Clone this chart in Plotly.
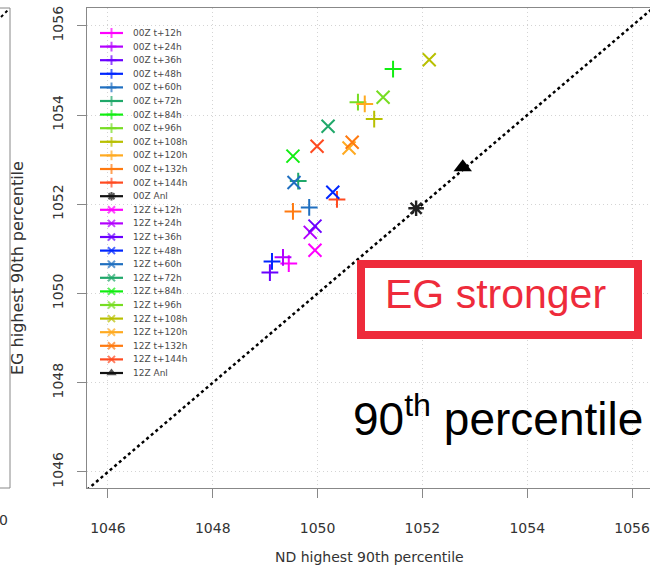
import plotly.graph_objects as go

# ---------------- data ----------------
leads = ["t+12h", "t+24h", "t+36h", "t+48h", "t+60h", "t+72h",
         "t+84h", "t+96h", "t+108h", "t+120h", "t+132h", "t+144h"]
lead_colors = ["#FF00FF", "#B300FF", "#6A00FF", "#0026FF", "#1F6FC0", "#20A86A",
               "#11EE11", "#77DD22", "#B8C000", "#FFAA20", "#FF7A10", "#FF4A20"]

run00_x = [1049.45, 1049.34, 1049.09, 1049.13, 1049.84, 1049.63,
           1051.44, 1050.77, 1051.08, 1050.90, 1049.53, 1050.37]
run00_y = [1050.67, 1050.81, 1050.47, 1050.72, 1051.93, 1052.52,
           1055.03, 1054.29, 1053.91, 1054.25, 1051.84, 1052.11]

run12_x = [1049.95, 1049.86, 1049.95, 1050.29, 1049.55, 1050.20,
           1049.53, 1051.25, 1052.13, 1050.60, 1050.66, 1049.99]
run12_y = [1050.97, 1051.37, 1051.51, 1052.27, 1052.49, 1053.75,
           1053.08, 1054.40, 1055.24, 1053.26, 1053.39, 1053.30]

anl00 = (1051.88, 1051.91)
anl12 = (1052.77, 1052.83)

x_ticks = [1046, 1048, 1050, 1052, 1054, 1056]
y_ticks = [1046, 1048, 1050, 1052, 1054, 1056]
axis_min, axis_max = 1045.6, 1056.4

# ---------------- layout geometry (pixels) ----------------
W, H = 650, 567
L, T, B = 87, 8, 79
plot_left, plot_right, plot_top, plot_bottom = L, W, T, H - B
px_per_unit = (653 - 87) / (axis_max - axis_min)
x_range = [axis_min, axis_min + (plot_right - plot_left) / px_per_unit]
y_range = [1045.64, 1056.4]

def pxx(p):
    return (p - plot_left) / (plot_right - plot_left)

def pxy(p):
    return (plot_bottom - p) / (plot_bottom - plot_top)

fig = go.Figure()

# diagonal y = x
fig.add_trace(go.Scatter(x=[axis_min, axis_max], y=[axis_min, axis_max], mode="lines",
                         line=dict(color="black", width=2.5, dash="dot"),
                         showlegend=False, hoverinfo="skip"))

for i, lead in enumerate(leads):
    fig.add_trace(go.Scatter(x=[run00_x[i]], y=[run00_y[i]], mode="markers",
                             name="00Z " + lead, showlegend=False,
                             marker=dict(symbol="cross-thin", size=12, color=lead_colors[i],
                                         line=dict(color=lead_colors[i], width=2))))
for i, lead in enumerate(leads):
    fig.add_trace(go.Scatter(x=[run12_x[i]], y=[run12_y[i]], mode="markers",
                             name="12Z " + lead, showlegend=False,
                             marker=dict(symbol="x-thin", size=13, color=lead_colors[i],
                                         line=dict(color=lead_colors[i], width=2))))

fig.add_trace(go.Scatter(x=[anl00[0]], y=[anl00[1]], mode="markers", name="00Z Anl",
                         showlegend=False,
                         marker=dict(symbol="asterisk-open", size=13, color="#222222",
                                     line=dict(color="#222222", width=2.4))))
fig.add_trace(go.Scatter(x=[anl12[0]], y=[anl12[1]], mode="markers", name="12Z Anl",
                         showlegend=False,
                         marker=dict(symbol="triangle-up", size=16, color="black",
                                     line=dict(width=0))))

# ---------------- manual compact legend (overlay axes in pixels) ----------------
legend_entries = ([("00Z " + l, c, "cross-thin", 7) for l, c in zip(leads, lead_colors)]
                  + [("00Z Anl", "#111111", "asterisk-open", 7)]
                  + [("12Z " + l, c, "x-thin", 7) for l, c in zip(leads, lead_colors)]
                  + [("12Z Anl", "#111111", "triangle-up", 9)])
row0, row_step = 33, 13.6
line_x0, line_x1, text_x = 100, 123, 131
annotations = []
for i, (lab, col, sym, sz) in enumerate(legend_entries):
    yy = row0 + i * row_step
    mk = dict(symbol=sym, size=[0, sz, 0], color=col, line=dict(color=col, width=2))
    if sym == "triangle-up":
        mk = dict(symbol=sym, size=[0, sz, 0], color=col, line=dict(width=0))
    fig.add_trace(go.Scatter(x=[line_x0, (line_x0 + line_x1) / 2, line_x1], y=[yy, yy, yy],
                             mode="lines+markers", xaxis="x2", yaxis="y2",
                             line=dict(color=col, width=2.2), marker=mk,
                             showlegend=False, hoverinfo="skip"))
    annotations.append(dict(x=text_x, y=yy, xref="x2", yref="y2", text=lab,
                            showarrow=False, xanchor="left", yanchor="middle",
                            font=dict(family="DejaVu Sans", size=9, color="#4a4a4a")))

# big annotations
annotations.append(dict(x=495, y=294, xref="x2", yref="y2", text="EG stronger",
                        showarrow=False, xanchor="center", yanchor="middle",
                        font=dict(family="Liberation Sans", size=41, color="#EE2B3B")))
annotations.append(dict(x=498, y=416, xref="x2", yref="y2",
                        text="90<sup>th</sup> percentile",
                        showarrow=False, xanchor="center", yanchor="middle",
                        font=dict(family="Liberation Sans", size=46, color="black")))

# axis titles
annotations.append(dict(x=pxx(369), y=pxy(557), xref="paper", yref="paper",
                        text="ND highest 90th percentile", showarrow=False,
                        xanchor="center", yanchor="middle",
                        font=dict(family="DejaVu Sans", size=14, color="#333333")))
annotations.append(dict(x=pxx(17), y=pxy(268), xref="paper", yref="paper",
                        text="EG highest 90th percentile", showarrow=False, textangle=-90,
                        xanchor="center", yanchor="middle",
                        font=dict(family="DejaVu Sans", size=16, color="#333333")))
# remnant of neighbouring panel
annotations.append(dict(x=pxx(3), y=pxy(520), xref="paper", yref="paper",
                        text="0", showarrow=False, xanchor="center", yanchor="middle",
                        font=dict(family="DejaVu Sans", size=14, color="#333333")))

shapes = [
    dict(type="rect", xref="x2", yref="y2", x0=361, x1=638, y0=264, y1=335,
         line=dict(color="#EE2B3B", width=8), fillcolor="white", layer="above"),
    dict(type="line", xref="paper", yref="paper", x0=pxx(10), x1=pxx(10),
         y0=pxy(8), y1=pxy(488), line=dict(color="#888888", width=1)),
    dict(type="line", xref="paper", yref="paper", x0=pxx(0), x1=pxx(10),
         y0=pxy(488), y1=pxy(488), line=dict(color="#888888", width=1)),
    dict(type="line", xref="paper", yref="paper", x0=pxx(0), x1=pxx(10),
         y0=pxy(8), y1=pxy(8), line=dict(color="#888888", width=1)),
    dict(type="line", xref="paper", yref="paper", x0=pxx(1), x1=pxx(9),
         y0=pxy(17), y1=pxy(9), line=dict(color="black", width=2, dash="dot")),
]

axis_common = dict(showgrid=True, gridcolor="#d4d4d4", griddash="1px,3px", gridwidth=1,
                   showline=True, linecolor="#888888", linewidth=1,
                   ticks="outside", ticklen=9, tickcolor="#888888", tickwidth=1,
                   zeroline=False,
                   tickfont=dict(family="DejaVu Sans", size=14, color="#333333"))

fig.update_layout(
    width=W, height=H,
    margin=dict(l=L, r=0, t=T, b=B, pad=0),
    paper_bgcolor="white", plot_bgcolor="white",
    showlegend=False,
    xaxis=dict(range=x_range, tickvals=x_ticks, mirror=True,
               ticklabelstandoff=18, **axis_common),
    yaxis=dict(range=y_range, tickvals=y_ticks, tickangle=-90,
               ticklabelstandoff=8, **axis_common),
    xaxis2=dict(range=[plot_left, plot_right], overlaying="x", visible=False,
                showgrid=False, zeroline=False),
    yaxis2=dict(range=[plot_bottom, plot_top], overlaying="y", visible=False,
                showgrid=False, zeroline=False),
    annotations=annotations,
    shapes=shapes,
)

fig.write_html("out.html")
